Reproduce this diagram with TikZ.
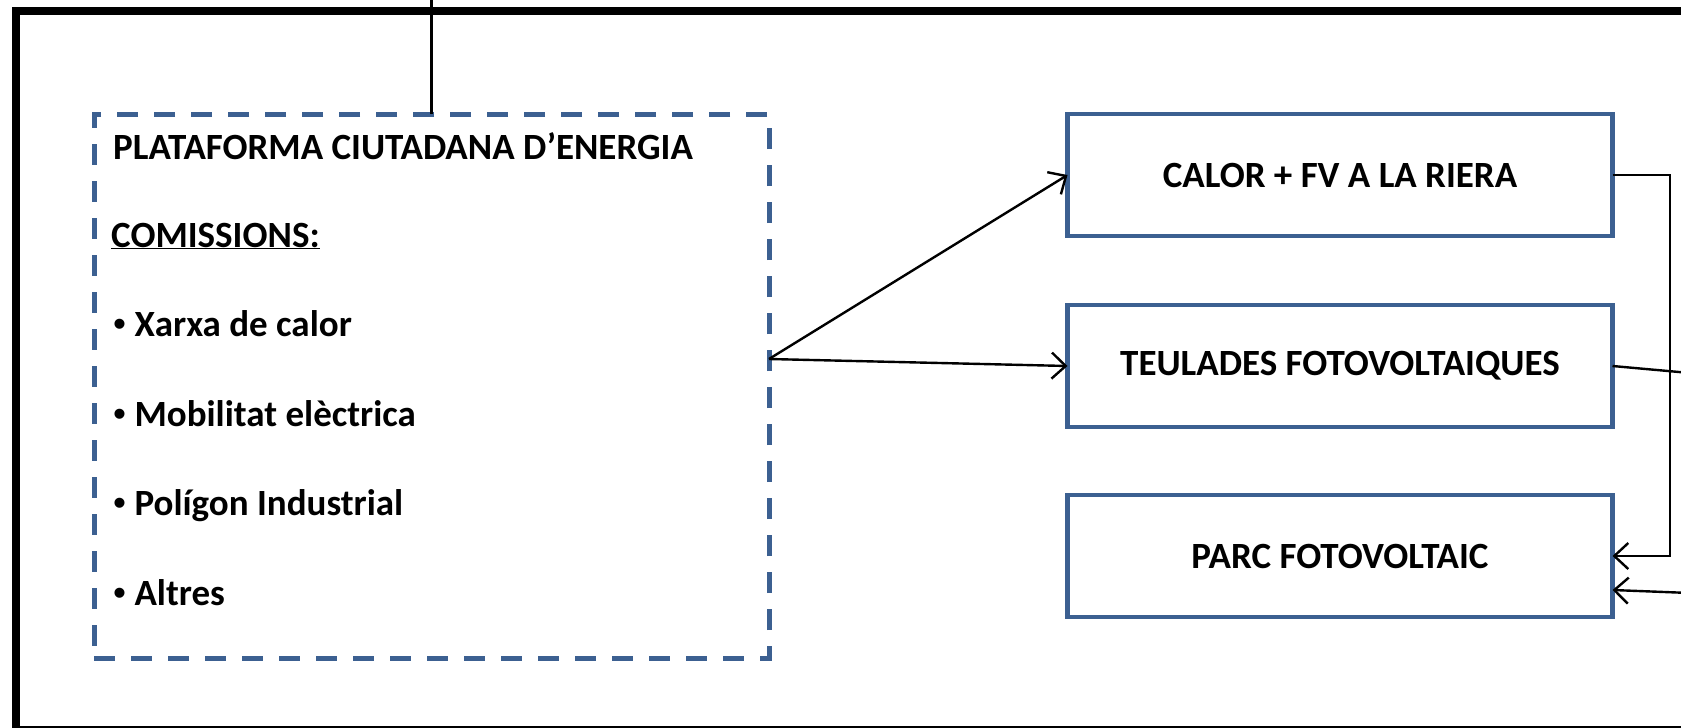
\documentclass[tikz,border=0pt]{standalone}
\usepackage{fontspec}
\setmainfont{Carlito}
\newfontfamily\bulfont{Liberation Sans}
\usetikzlibrary{arrows.meta}
\definecolor{boxblue}{RGB}{60,96,145}
\newcommand{\bul}{{\bulfont\mdseries •}\ }
\begin{document}
\begin{tikzpicture}[x=1pt,y=-1pt,
  frame/.style={line width=8pt, draw=black},
  dashbox/.style={draw=boxblue, line width=5pt, dash pattern=on 21pt off 16pt, minimum width=675pt, minimum height=544pt, anchor=north west, inner sep=0pt, outer sep=0pt},
  solidbox/.style={draw=boxblue, line width=4.5pt, minimum width=545pt, minimum height=122pt, font=\fontsize{37}{44}\selectfont\bfseries, inner sep=0pt, outer sep=0pt},
  item/.style={anchor=base west, font=\fontsize{37}{44}\selectfont\bfseries, inner sep=0pt},
  conn/.style={draw=black, line width=2.4pt},
  arr/.style={conn, -{Straight Barb[length=14pt,width=26pt,line width=2.4pt]}},
]
\useasboundingbox (0,0) rectangle (1681,728);
\fill[white] (0,0) rectangle (1681,728);
\draw[frame] (15.5,11) rectangle (1720,730);

\node[dashbox] (plat) at (94,114) {};
\node[item] (t0) at (113,159) {PLATAFORMA CIUTADANA D’ENERGIA};
\node[item] (t1) at (111,247) {\underline{COMISSIONS:}};
\node[item] (t2) at (113,336) {\bul Xarxa de calor};
\node[item] (t3) at (113,426) {\bul Mobilitat elèctrica};
\node[item] (t4) at (113,515) {\bul Polígon Industrial};
\node[item] (t5) at (113,605) {\bul Altres};

\node[solidbox] (b1) at (1340,175) {CALOR + FV A LA RIERA};
\node[solidbox] (b2) at (1340,366) {TEULADES FOTOVOLTAIQUES};
\node[solidbox] (b3) at (1340,556) {PARC FOTOVOLTAIC};

\coordinate (top) at (431.5,0);
\draw[conn] (top) -- (plat.north);

\coordinate (src) at (769,359);
\draw[arr] (src) -- (b1.west);
\draw[arr] (src) -- (b2.west);

\coordinate (r1) at (1670,175);
\draw[arr] (b1.east) -- (r1) |- (b3.east);
\coordinate (r2) at (1690,373);
\draw[conn] (b2.east) -- (r2);
\coordinate (r3) at (1690,593);
\draw[arr] (r3) -- ([yshift=-34pt]b3.east);
\end{tikzpicture}
\end{document}
